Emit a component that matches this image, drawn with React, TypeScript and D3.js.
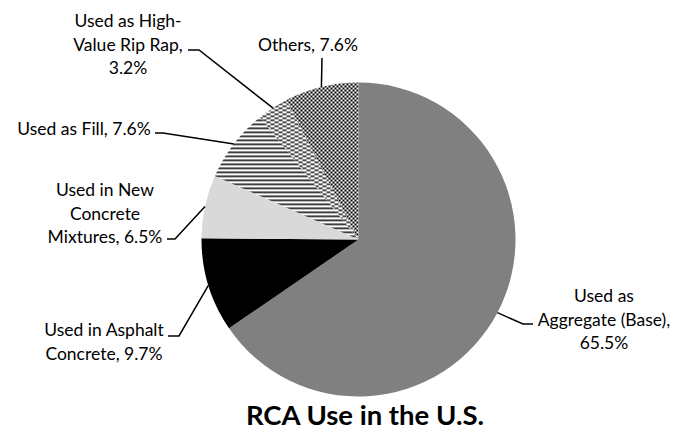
import React from "react";
import * as d3 from "d3";

const categories = [
  "Used as Aggregate (Base)",
  "Used in Asphalt Concrete",
  "Used in New Concrete Mixtures",
  "Used as Fill",
  "Used as High-Value Rip Rap",
  "Others",
];
const values = [65.5, 9.7, 6.5, 7.6, 3.2, 7.6];
const labelLines = [
  ["Used as", "Aggregate (Base),", "65.5%"],
  ["Used in Asphalt", "Concrete, 9.7%"],
  ["Used in New", "Concrete", "Mixtures, 6.5%"],
  ["Used as Fill, 7.6%"],
  ["Used as High-", "Value Rip Rap,", "3.2%"],
  ["Others, 7.6%"],
];
const title = "RCA Use in the U.S.";

// layout (positions only)
const W = 690, H = 432;
const cx = 358.5, cy = 239.5, R = 157;
const fills = ["#808080", "#000000", "#d9d9d9", "url(#pFill)", "url(#pDash)", "url(#pCheck)"];
const labelLayout = [
  { x: 604, y: 296, anchor: "middle", elbow: [523, 324], end: [533, 324] },
  { x: 104, y: 330, anchor: "middle", elbow: [179, 336], end: [168, 336] },
  { x: 105, y: 190, anchor: "middle", elbow: [175, 239], end: [167, 239] },
  { x: 84, y: 129, anchor: "middle", elbow: [163, 133], end: [155, 133] },
  { x: 128, y: 21, anchor: "middle", elbow: [199, 50], end: [188, 50] },
  { x: 308, y: 45, anchor: "middle", elbow: null, end: [322, 58] },
];
const lineH = 23.5;

export default function App() {
  const data = categories.map((c, i) => ({ c, v: values[i], i }));
  const pie = d3.pie<any>().sort(null).value((d) => d.v);
  const arcs = pie(data);
  const arc = d3.arc<any>().innerRadius(0).outerRadius(R);
  const font = "Lato, 'Open Sans', sans-serif";
  return (
    <svg width={W} height={H} style={{ position: "absolute", left: 0, top: 0, background: "#fff" }}>
      <defs>
        <pattern id="pCheck" width={4} height={4} patternUnits="userSpaceOnUse">
          <rect width={4} height={4} fill="#fff" />
          <rect x={0} y={0} width={2} height={2} fill="#000" />
          <rect x={2} y={2} width={2} height={2} fill="#000" />
        </pattern>
        <pattern id="pFill" width={4} height={4} patternUnits="userSpaceOnUse">
          <rect width={4} height={4} fill="#fff" />
          <rect x={0} y={0} width={4} height={1.6} fill="#111" />
        </pattern>
        <pattern id="pDash" width={8} height={4} patternUnits="userSpaceOnUse">
          <rect width={8} height={4} fill="#fff" />
          <rect x={0} y={0} width={4} height={1.5} fill="#111" />
          <rect x={4} y={2} width={4} height={1.5} fill="#111" />
        </pattern>
      </defs>
      <g transform={`translate(${cx},${cy})`}>
        {arcs.map((a, i) => (
          <path key={i} d={arc(a) || ""} fill={fills[i]} />
        ))}
      </g>
      {arcs.map((a, i) => {
        const mid = (a.startAngle + a.endAngle) / 2;
        const ex = cx + R * Math.sin(mid);
        const ey = cy - R * Math.cos(mid);
        const L = labelLayout[i];
        const pts = [[ex, ey]] as number[][];
        if (L.elbow) pts.push(L.elbow);
        pts.push(L.end);
        const line = d3.line()(pts as [number, number][]) || "";
        return (
          <g key={i}>
            <path d={line} fill="none" stroke="#000" strokeWidth={1.5} />
            <text fontFamily={font} fontSize={17.5} fill="#000" textAnchor={L.anchor as any}>
              {labelLines[i].map((t, j) => (
                <tspan key={j} x={L.x} y={L.y + j * lineH} dy="0.35em">
                  {t}
                </tspan>
              ))}
            </text>
          </g>
        );
      })}
      <text x={365} y={415} dy="0.35em" textAnchor="middle" fontFamily={font} fontWeight="bold" fontSize={27.5} fill="#000">
        {title}
      </text>
    </svg>
  );
}
